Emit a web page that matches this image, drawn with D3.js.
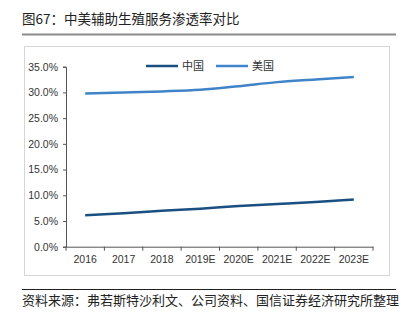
<!DOCTYPE html>
<html><head><meta charset="utf-8">
<script src="https://cdn.jsdelivr.net/npm/d3@7"></script>
<style>
body{margin:0;background:#fff;}
svg{display:block;font-family:"Noto Sans CJK SC","Noto Sans",sans-serif;}
</style></head><body>
<svg id="c" width="411" height="324"></svg>
<script>
const categories = ["2016","2017","2018","2019E","2020E","2021E","2022E","2023E"];
const chinaValues = [6.1, 6.5, 7.0, 7.4, 7.9, 8.3, 8.7, 9.2];
const usValues = [29.8, 30.0, 30.2, 30.5, 31.2, 32.0, 32.5, 33.0];
const seriesNames = ["中国", "美国"];
const yTicks = [0, 5, 10, 15, 20, 25, 30, 35];
const titleText = "图67：中美辅助生殖服务渗透率对比";
const sourceText = "资料来源：弗若斯特沙利文、公司资料、国信证券经济研究所整理";

const svg = d3.select("#c");
const colors = ["#1a4f82", "#3f84c8"];

// Title
svg.append("text").attr("x", 22).attr("y", 24).attr("font-size", 13.5).attr("fill", "#222").text(titleText);
svg.append("line").attr("x1", 22).attr("x2", 396).attr("y1", 34.5).attr("y2", 34.5).attr("stroke", "#8a8a8a").attr("stroke-width", 2);

// Chart frame
svg.append("rect").attr("x", 24.5).attr("y", 46.5).attr("width", 365).attr("height", 229).attr("fill", "none").attr("stroke", "#d6d6d6").attr("stroke-width", 1);

// Source
svg.append("line").attr("x1", 22).attr("x2", 396).attr("y1", 289.5).attr("y2", 289.5).attr("stroke", "#222").attr("stroke-width", 1);
svg.append("text").attr("x", 22).attr("y", 305).attr("font-size", 13).attr("fill", "#222").text(sourceText);

const x = d3.scaleBand().domain(categories).range([66, 373]);
const y = d3.scaleLinear().domain([0, 35]).range([246.7, 66.7]);

const gx = svg.append("g").attr("transform", "translate(0,246.7)")
  .call(d3.axisBottom(x).tickSize(0).tickPadding(9));
gx.select(".domain").attr("stroke", "#555");
gx.selectAll("text").attr("font-size", 10.5).attr("fill", "#333").attr("font-family", "Liberation Sans, Arial, sans-serif");
// boundary ticks
const bounds = categories.map(c => x(c)).concat([x.range()[1]]);
gx.selectAll(".btick").data(bounds).enter().append("line").attr("class", "btick")
  .attr("x1", d => d).attr("x2", d => d).attr("y1", 0).attr("y2", 4).attr("stroke", "#555");

const gy = svg.append("g").attr("transform", "translate(66,0)")
  .call(d3.axisLeft(y).tickValues(yTicks).tickSize(3).tickPadding(5).tickFormat(d => d3.format(".1f")(d) + "%"));
gy.select(".domain").attr("stroke", "#555");
gy.selectAll(".tick line").attr("stroke", "#555");
gy.selectAll("text").attr("font-size", 10.5).attr("fill", "#333").attr("font-family", "Liberation Sans, Arial, sans-serif");

const line = d3.line().x((d, i) => x(categories[i]) + x.bandwidth() / 2).y(d => y(d)).curve(d3.curveMonotoneX);
[chinaValues, usValues].forEach((vals, k) => {
  svg.append("path").datum(vals).attr("d", line).attr("fill", "none").attr("stroke", colors[k]).attr("stroke-width", 2.5);
});

// Legend
const lg = [{x: 146}, {x: 216}];
seriesNames.forEach((n, k) => {
  svg.append("line").attr("x1", lg[k].x).attr("x2", lg[k].x + 32).attr("y1", 66).attr("y2", 66).attr("stroke", colors[k]).attr("stroke-width", 2.5);
  svg.append("text").attr("x", lg[k].x + 36).attr("y", 70).attr("font-size", 11).attr("fill", "#333").text(n);
});
</script></body></html>
